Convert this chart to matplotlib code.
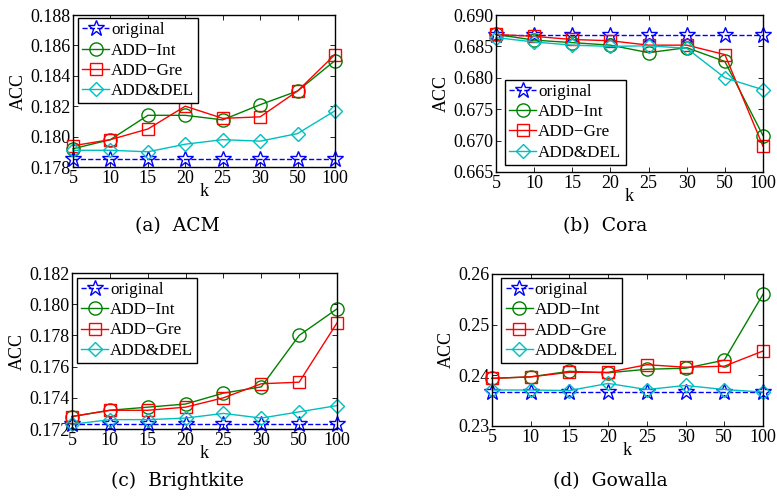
import matplotlib
matplotlib.use("Agg")
import matplotlib.pyplot as plt
import numpy as np
from matplotlib.ticker import FormatStrFormatter

plt.rcParams['font.family'] = ['Liberation Serif', 'DejaVu Serif']
plt.rcParams['mathtext.fontset'] = 'stix'

k_labels = ['5', '10', '15', '20', '25', '30', '50', '100']
series_names = ['original', 'ADD\u2212Int', 'ADD\u2212Gre', 'ADD&DEL']

# (a) ACM
acm_original = [0.1785, 0.1785, 0.1785, 0.1785, 0.1785, 0.1785, 0.1785, 0.1785]
acm_int = [0.1792, 0.1798, 0.1814, 0.1814, 0.1811, 0.1821, 0.1830, 0.1850]
acm_gre = [0.1794, 0.1798, 0.1805, 0.1820, 0.1812, 0.1813, 0.1830, 0.1854]
acm_del = [0.1791, 0.1791, 0.1790, 0.1795, 0.1798, 0.1797, 0.1802, 0.1817]

# (b) Cora
cora_original = [0.6868, 0.6868, 0.6868, 0.6868, 0.6868, 0.6868, 0.6868, 0.6868]
cora_int = [0.6869, 0.6860, 0.6856, 0.6852, 0.6840, 0.6848, 0.6826, 0.6708]
cora_gre = [0.6869, 0.6866, 0.6861, 0.6859, 0.6852, 0.6852, 0.6837, 0.6691]
cora_del = [0.6864, 0.6857, 0.6852, 0.6850, 0.6851, 0.6847, 0.6800, 0.6781]

# (c) Brightkite
bk_original = [0.1723, 0.1723, 0.1723, 0.1723, 0.1723, 0.1723, 0.1723, 0.1723]
bk_int = [0.1728, 0.1732, 0.1734, 0.1736, 0.1743, 0.1747, 0.1780, 0.1797]
bk_gre = [0.1728, 0.1732, 0.1732, 0.1734, 0.1740, 0.1749, 0.1750, 0.1788]
bk_del = [0.1723, 0.1726, 0.1726, 0.1727, 0.1730, 0.1727, 0.1731, 0.1735]

# (d) Gowalla
gw_original = [0.2367, 0.2367, 0.2367, 0.2367, 0.2367, 0.2367, 0.2367, 0.2367]
gw_int = [0.2394, 0.2397, 0.2408, 0.2405, 0.2412, 0.2414, 0.2430, 0.2560]
gw_gre = [0.2394, 0.2397, 0.2406, 0.2406, 0.2421, 0.2416, 0.2418, 0.2448]
gw_del = [0.2371, 0.2371, 0.2370, 0.2384, 0.2372, 0.2380, 0.2372, 0.2367]

captions = ['(a)  ACM', '(b)  Cora', '(c)  Brightkite', '(d)  Gowalla']

panels = [
    dict(data=[acm_original, acm_int, acm_gre, acm_del], yt=np.arange(0.178, 0.1881, 0.002), fmt='%.3f',
         rect=[73/777, 1-167/500, 262/777, 152/500], leg_loc='upper left', leg_anchor=(0.018, 0.98),
         cap=(177, 226)),
    dict(data=[cora_original, cora_int, cora_gre, cora_del], yt=np.arange(0.665, 0.6901, 0.005), fmt='%.3f',
         rect=[496/777, 1-172/500, 267/777, 157/500], leg_loc='lower left', leg_anchor=(0.033, 0.045),
         cap=(605, 226)),
    dict(data=[bk_original, bk_int, bk_gre, bk_del], yt=np.arange(0.172, 0.1821, 0.002), fmt='%.3f',
         rect=[72/777, 1-429/500, 265/777, 156/500], leg_loc='upper left', leg_anchor=(0.018, 0.97),
         cap=(177, 481)),
    dict(data=[gw_original, gw_int, gw_gre, gw_del], yt=np.arange(0.23, 0.2601, 0.01), fmt='%.2f',
         rect=[492/777, 1-426/500, 271/777, 152/500], leg_loc='upper left', leg_anchor=(0.035, 0.975),
         cap=(610, 481)),
]

colors = ['#0000ff', '#008000', '#ff0000', '#00bfbf']
markers = ['*', 'o', 's', 'D']
msizes = [12, 9.5, 9, 7.5]
styles = ['--', '-', '-', '-']

fig = plt.figure(figsize=(7.77, 5.00), dpi=100)
x = np.arange(len(k_labels))

for p, cap in zip(panels, captions):
    ax = fig.add_axes(p['rect'])
    for i, vals in enumerate(p['data']):
        ax.plot(x, vals, linestyle=styles[i], color=colors[i], marker=markers[i],
                markersize=msizes[i], markerfacecolor='none', markeredgecolor=colors[i],
                markeredgewidth=1.0, linewidth=1.0, label=series_names[i], clip_on=False)
    ax.set_xlim(0, len(k_labels) - 1)
    ax.set_ylim(p['yt'][0], p['yt'][-1])
    ax.set_xticks(x)
    ax.set_xticklabels(k_labels)
    ax.set_yticks(p['yt'])
    ax.yaxis.set_major_formatter(FormatStrFormatter(p['fmt']))
    ax.tick_params(direction='in', length=3.5, width=0.6, top=True, right=True,
                   labelsize=13, pad=2)
    for s in ax.spines.values():
        s.set_linewidth(1.0)
    ax.set_xlabel('k', fontsize=13, labelpad=-3)
    ax.set_ylabel('ACC', fontsize=13, labelpad=2)
    leg = ax.legend(loc=p['leg_loc'], bbox_to_anchor=p['leg_anchor'], fontsize=12.3,
                    handlelength=1.6, handletextpad=0.1, labelspacing=0.25,
                    borderpad=0.25, borderaxespad=0.0, fancybox=False, framealpha=1,
                    edgecolor='black')
    leg.get_frame().set_linewidth(1.0)
    fig.text(p['cap'][0] / 777, 1 - p['cap'][1] / 500, cap, ha='center', va='center',
             fontsize=13.5, family=['DejaVu Serif'])

fig.savefig('out.png', dpi=100)
